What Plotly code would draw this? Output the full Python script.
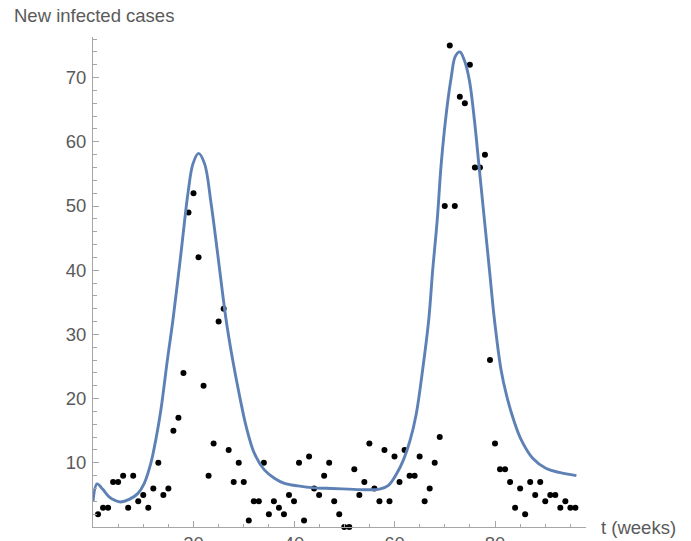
import plotly.graph_objects as go

# Observed weekly new infected cases
weeks = list(range(1, 97))
cases = [2, 3, 3, 7, 7, 8, 3, 8, 4, 5, 3, 6, 10, 5, 6, 15, 17, 24, 49, 52,
         42, 22, 8, 13, 32, 34, 12, 7, 10, 7, 1, 4, 4, 10, 2, 4, 3, 2, 5, 4,
         10, 1, 11, 6, 5, 8, 10, 4, 2, 0, 0, 9, 5, 7, 13, 6, 4, 12, 4, 11,
         7, 12, 8, 8, 11, 4, 6, 10, 14, 50, 75, 50, 67, 66, 72, 56, 56, 58, 26, 13,
         9, 9, 7, 3, 6, 2, 7, 5, 7, 4, 5, 5, 3, 4, 3, 3]

# Fitted model curve
fit_t = [0, 0.8, 1.9, 3.2, 4.5, 5.5, 7.2, 8.9, 10.2, 11.5, 12.5, 13.5, 14.8, 15.9,
         17.5, 18.9, 19.9, 21.0, 22.2, 23.5, 24.8, 26.5, 27.8, 29.2, 30.5, 32.1,
         34.1, 36.1, 38.1, 40.8, 44.1, 47.5, 50.8, 54.1, 57.0, 58.8, 60.5, 61.8,
         63.1, 64.3, 65.6, 66.8, 67.6, 68.5, 69.3, 70.3, 71.3, 72.1, 73.0, 73.9,
         74.9, 75.9, 76.9, 77.9, 78.9, 79.9, 81.2, 82.3, 83.7, 85.2, 87.5, 90.2,
         92.8, 96.2]
fit_v = [3.9, 6.7, 5.9, 4.7, 4.1, 3.9, 4.3, 5.2, 6.8, 9.9, 13.6, 18.2, 26.0, 32.2,
         42.6, 52.0, 56.6, 58.2, 56.6, 50.4, 42.6, 32.2, 26.0, 20.3, 15.6, 11.5,
         8.9, 7.6, 6.8, 6.4, 6.1, 6.0, 5.9, 5.8, 5.9, 6.5, 8.4, 10.5,
         13.5, 17.5, 24.5, 32.2, 40.0, 47.8, 56.6, 64.4, 70.1, 73.3, 74.0, 72.7,
         69.6, 63.4, 55.6, 47.8, 40.0, 32.2, 24.5, 20.5, 16.7, 13.6, 10.7, 9.1,
         8.5, 8.0]

x_tickvals = [20, 40, 60, 80]
y_tickvals = [10, 20, 30, 40, 50, 60, 70]

axis_col = "#a6a6a6"
txt_col = "#5a5a5a"
font_fam = "Liberation Sans, Arial, sans-serif"
fs = 18.5

# page body has an 8px margin; figure sized to fit the 691x541 window
W, H = 683, 533
L, T, R, B = 85, 29, 105, 14
pw, ph = W - L - R, H - T - B

fig = go.Figure()
fig.add_trace(go.Scatter(x=weeks, y=cases, mode="markers",
                         marker=dict(color="black", size=6),
                         cliponaxis=False, showlegend=False))
fig.add_trace(go.Scatter(x=fit_t, y=fit_v, mode="lines",
                         line=dict(color="#5E81B5", width=2.9, shape="spline", smoothing=1.0),
                         cliponaxis=False, showlegend=False))

fig.update_layout(
    width=W, height=H,
    margin=dict(l=L, r=R, t=T, b=B),
    paper_bgcolor="white", plot_bgcolor="white",
    font=dict(family=font_fam, color=txt_col, size=fs),
    xaxis=dict(range=[0, pw / 5.025], showgrid=False, zeroline=False, showline=True,
               linecolor=axis_col, linewidth=1, ticks="inside", ticklen=6,
               tickcolor=axis_col, tickvals=x_tickvals, ticktext=[str(v) for v in x_tickvals],
               tickfont=dict(size=fs, color=txt_col), automargin=False,
               minor=dict(dtick=5, tick0=0, ticks="inside", ticklen=3.5, tickcolor=axis_col)),
    yaxis=dict(range=[0, ph / 6.42], showgrid=False, zeroline=False, showline=True,
               linecolor=axis_col, linewidth=1, ticks="inside", ticklen=6,
               tickcolor=axis_col, tickvals=y_tickvals, ticktext=[str(v) for v in y_tickvals],
               tickfont=dict(size=fs, color=txt_col), automargin=False,
               ticklabelstandoff=2,
               minor=dict(dtick=2, tick0=0, ticks="inside", ticklen=3.5, tickcolor=axis_col)),
    annotations=[
        dict(text="New infected cases", xref="paper", yref="paper",
             x=(4 - L) / pw, y=(T + ph - 8) / ph, xanchor="left", yanchor="middle",
             showarrow=False, font=dict(size=fs, color=txt_col)),
        dict(text="t (weeks)", xref="paper", yref="paper",
             x=(591 - L) / pw, y=0, xanchor="left", yanchor="middle",
             showarrow=False, font=dict(size=fs, color=txt_col)),
    ],
)

fig.write_html("out.html")
